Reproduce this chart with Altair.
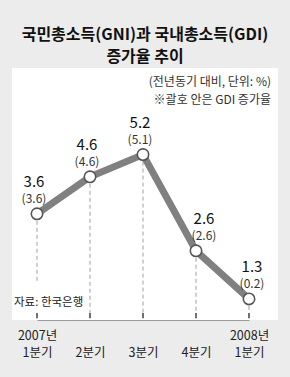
import altair as alt
import pandas as pd

quarters = ["2007년 1분기", "2분기", "3분기", "4분기", "2008년 1분기"]
gni = [3.6, 4.6, 5.2, 2.6, 1.3]
gdi = [3.6, 4.6, 5.1, 2.6, 0.2]
label_group = ["left", "left", "left", "right", "right2"]

df = pd.DataFrame({
    "q": quarters,
    "gni": gni,
    "gni_txt": [f"{v:.1f}" for v in gni],
    "gdi_txt": [f"({v:.1f})" for v in gdi],
    "grp": label_group,
})

FONT = "Noto Sans CJK KR"
YMIN, YMAX = 0.73, 7.54

xenc = alt.X("q:N", sort=quarters,
             scale=alt.Scale(type="point", padding=0, range=[25, 237]),
             axis=alt.Axis(title=None, ticks=False, domainColor="#9a9a9a", domainWidth=1,
                           labelAngle=0, labelFontSize=12.5, labelColor="#222",
                           labelFont=FONT, labelPadding=9, labelLineHeight=17,
                           labelBaseline="top",
                           labelExpr="indexof(datum.label,' ')>=0 ? split(datum.label,' ') : ['', datum.label]"))
yscale = alt.Scale(domain=[YMIN, YMAX], nice=False, zero=False)
yenc = alt.Y("gni:Q", scale=yscale, axis=None)

base = alt.Chart(df)

dashes = base.transform_calculate(
    bottom="datum.q == '2007년 1분기' ? 1.75 : 0.92"
).mark_rule(color="#a0a0a0", strokeDash=[4, 3], strokeWidth=1).encode(
    x=xenc, y=yenc, y2="bottom:Q")

ticks = base.transform_calculate(t1="0.92", t2="0.78").mark_rule(
    color="#222", strokeWidth=1.3).encode(
    x=xenc, y=alt.Y("t1:Q", scale=yscale, axis=None), y2="t2:Q")

line = base.mark_line(color="#808080", strokeWidth=7).encode(x=xenc, y=yenc)

pts = base.mark_point(filled=True, fill="white", stroke="#555", strokeWidth=1.6,
                      size=130, opacity=1).encode(x=xenc, y=yenc)

def labels(grp, dx):
    b = base.transform_filter(alt.datum.grp == grp)
    t1 = b.mark_text(font=FONT, fontSize=15, color="#111", dx=dx, dy=-32,
                     baseline="middle").encode(x=xenc, y=yenc, text="gni_txt:N")
    t2 = b.mark_text(font=FONT, fontSize=12, color="#333", dx=dx, dy=-15,
                     baseline="middle").encode(x=xenc, y=yenc, text="gdi_txt:N")
    return [t1, t2]

notes = pd.DataFrame({"t": ["(전년동기 대비, 단위: %)", "※괄호 안은 GDI 증가율", "자료: 한국은행"]})
note1 = alt.Chart(notes).transform_filter(alt.datum.t == notes.t[0]).mark_text(
    font=FONT, fontSize=12, color="#333", align="right", baseline="middle").encode(
    x=alt.value(259), y=alt.value(14), text="t:N")
note2 = alt.Chart(notes).transform_filter(alt.datum.t == notes.t[1]).mark_text(
    font=FONT, fontSize=12, color="#333", align="right", baseline="middle").encode(
    x=alt.value(259), y=alt.value(32), text="t:N")
src = alt.Chart(notes).transform_filter(alt.datum.t == notes.t[2]).mark_text(
    font=FONT, fontSize=11.5, color="#222", align="left", baseline="middle").encode(
    x=alt.value(2), y=alt.value(235), text="t:N")

chart = alt.layer(
    dashes, ticks, line, pts,
    *labels("left", -3), *labels("right", 8), *labels("right2", 3),
    note1, note2, src,
).properties(
    width=266, height=252,
    title=alt.TitleParams("국민총소득(GNI)과 국내총소득(GDI)",
                          subtitle="증가율 추이",
                          font=FONT, fontSize=16, fontWeight="bold", color="#111",
                          subtitleFont=FONT, subtitleFontSize=16, subtitleFontWeight="bold",
                          subtitleColor="#111", subtitlePadding=6,
                          anchor="middle", offset=3),
    padding={"left": 12, "top": 68, "right": 12, "bottom": 57},
    autosize=alt.AutoSizeParams(type="none"),
).configure(background="#ececec").configure_view(fill="white", stroke=None)

chart.save("out.html", embed_options={"renderer": "svg", "actions": False})
